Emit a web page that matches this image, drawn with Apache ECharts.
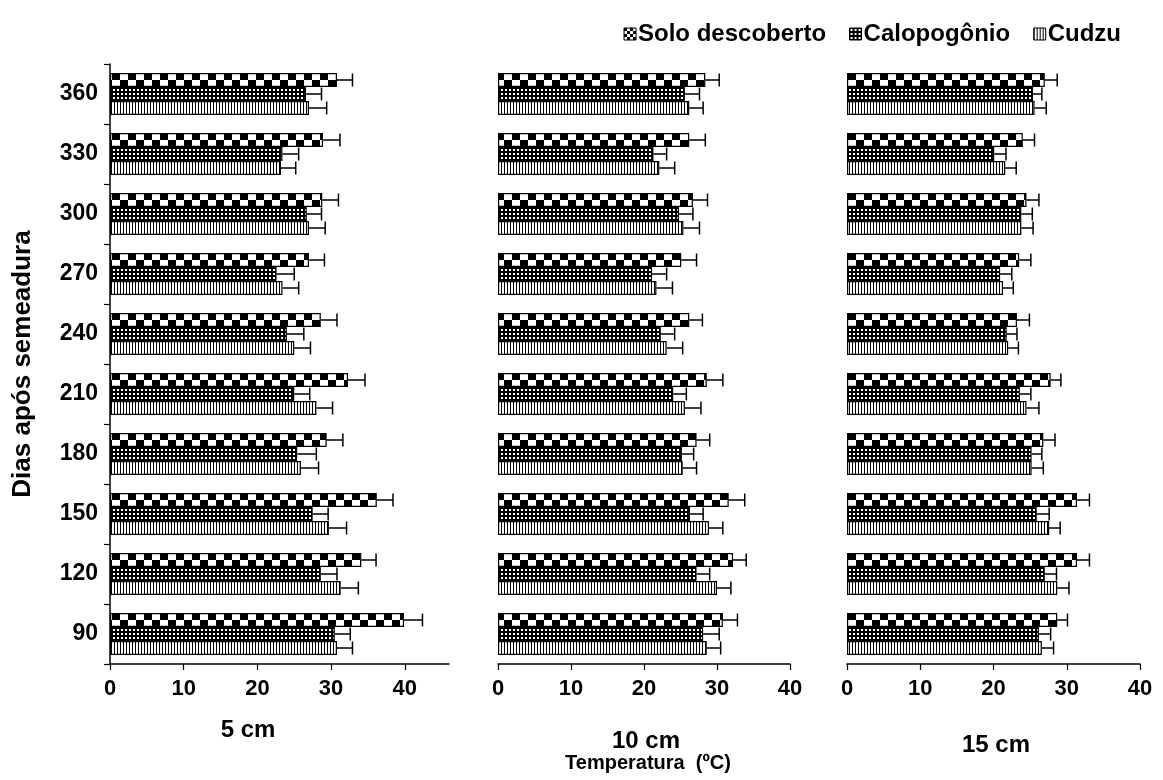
<!DOCTYPE html>
<html><head><meta charset="utf-8">
<script src="https://cdn.jsdelivr.net/npm/echarts@6/dist/echarts.min.js"></script>
<style>html,body{margin:0;padding:0;background:#fff}#c{width:1163px;height:780px}</style>
</head><body><div id="c"></div><script>
// ---- data (categories from bottom to top) ----
const categories = ['90','120','150','180','210','240','270','300','330','360'];
const seriesNames = ['Solo descoberto','Calopogônio','Cudzu'];
const panelNames = ['5 cm','10 cm','15 cm'];
const xTicks = [0,10,20,30,40];

// 5 cm
const solo5   = [39.9,34.1,36.2,29.4,32.3,28.6,27.0,28.8,28.9,30.8];
const solo5E  = [2.5,2.0,2.2,2.2,2.3,2.2,2.1,2.2,2.3,2.1];
const calo5   = [30.5,28.6,27.5,25.4,25.0,24.0,22.6,26.7,23.4,26.6];
const calo5E  = [2.1,2.2,2.1,2.6,2.1,2.3,2.4,2.0,2.2,2.1];
const cudz5   = [30.8,31.3,29.7,25.9,28.0,25.0,23.4,27.0,23.2,27.0];
const cudz5E  = [2.1,2.4,2.4,2.4,2.2,2.2,2.2,2.2,2.0,2.4];
// 10 cm
const solo10  = [30.8,32.2,31.6,27.2,28.6,26.2,25.1,26.7,26.2,28.4];
const solo10E = [2.0,1.8,2.2,1.8,2.2,1.8,2.1,2.0,2.2,1.9];
const calo10  = [28.1,27.2,26.3,25.2,24.0,22.3,21.1,24.8,21.3,25.6];
const calo10E = [2.2,1.8,1.8,1.6,1.8,1.9,2.0,1.9,1.8,2.0];
const cudz10  = [28.6,30.0,28.9,25.3,25.6,23.1,21.7,25.4,22.1,26.2];
const cudz10E = [1.9,1.9,1.9,1.9,2.2,2.2,2.2,2.2,2.1,1.9];
// 15 cm
const solo15  = [28.7,31.4,31.4,26.8,27.8,23.2,23.5,24.5,24.0,27.0];
const solo15E = [1.4,1.7,1.7,1.6,1.4,1.7,1.6,1.7,1.6,1.7];
const calo15  = [26.2,27.0,25.9,25.2,23.6,21.8,20.9,23.8,20.1,25.4];
const calo15E = [1.6,1.6,1.7,1.4,1.5,1.4,1.6,1.5,1.6,1.2];
const cudz15  = [26.6,28.7,27.6,25.2,24.5,22.0,21.3,23.8,21.6,25.6];
const cudz15E = [1.6,1.6,1.5,1.6,1.7,1.4,1.4,1.6,1.5,1.6];

const panels = [
  [[solo5,solo5E],[calo5,calo5E],[cudz5,cudz5E]],
  [[solo10,solo10E],[calo10,calo10E],[cudz10,cudz10E]],
  [[solo15,solo15E],[calo15,calo15E],[cudz15,cudz15E]]
];

// ---- patterns ----
function mk(w,h,draw){const c=document.createElement('canvas');c.width=w;c.height=h;const g=c.getContext('2d');draw(g);return {image:c,repeat:'repeat'};}
const BW = 14; // bar thickness
const checker = mk(16,60,g=>{g.fillStyle='#fff';g.fillRect(0,0,16,60);g.fillStyle='#000';g.fillRect(0,13,8,7);g.fillRect(8,20,8,7);});
const dots = mk(4,4,g=>{g.fillStyle='#000';g.fillRect(0,0,4,4);g.fillStyle='#fff';g.fillRect(1,1,2,2);});
const vlines = mk(3,2,g=>{g.fillStyle='#fff';g.fillRect(0,0,3,2);g.fillStyle='#000';g.fillRect(0,0,1,2);});
const checkerSmall = mk(6,6,g=>{g.fillStyle='#fff';g.fillRect(0,0,6,6);g.fillStyle='#000';g.fillRect(0,0,3,3);g.fillRect(3,3,3,3);});
const fills = [checker,dots,vlines];
const legendFills = [checkerSmall,dots,vlines];

const FONT = "'Liberation Sans', Arial, sans-serif";
const grids = [
  {left:110,top:64,width:339,height:600},
  {left:498,top:64,width:292,height:600},
  {left:847,top:64,width:293,height:600}
];
const xMax = [46,40,40];

const xAxes = grids.map((g,i)=>({
  type:'value', gridIndex:i, min:0, max:xMax[i], interval:10,
  axisLine:{show:true,lineStyle:{color:'#000',width:1.5}},
  axisTick:{show:true,length:6,lineStyle:{color:'#000',width:1.2},customValues: i===0?xTicks:undefined},
  axisLabel:{color:'#000',fontFamily:FONT,fontWeight:'bold',fontSize:22,margin:14,customValues: i===0?xTicks:undefined},
  splitLine:{show:false}
}));
const yAxes = grids.map((g,i)=>({
  type:'category', gridIndex:i, data:categories,
  axisLine:{show:i===0,lineStyle:{color:'#000',width:1.5}},
  axisTick:{show:i===0,length:6,lineStyle:{color:'#000',width:1.2}},
  axisLabel:{show:i===0,color:'#000',fontFamily:FONT,fontWeight:'bold',fontSize:23,margin:12},
  name: i===0?'Dias após semeadura':'', nameLocation:'middle', nameRotate:90, nameGap:74,
  nameTextStyle:{color:'#000',fontFamily:FONT,fontWeight:'bold',fontSize:26}
}));

const series = [];
panels.forEach((p,pi)=>{
  p.forEach(([vals,errs],si)=>{
    series.push({
      type:'bar', name:seriesNames[si], xAxisIndex:pi, yAxisIndex:pi,
      barWidth:BW, barGap:'0%', data:vals,
      itemStyle:{color:fills[si],borderColor:'#000',borderWidth:1.2},
      emphasis:{disabled:true}
    });
  });
  p.forEach(([vals,errs],si)=>{
    series.push({
      type:'custom', name:'err'+pi+si, xAxisIndex:pi, yAxisIndex:pi, z:5,
      data: vals.map((v,ci)=>[v,errs[ci],ci]),
      encode:{x:[0],y:2},
      renderItem:(params,api)=>{
        const v=api.value(0), e=api.value(1), ci=api.value(2);
        const a=api.coord([v,ci]), b=api.coord([v+e,ci]);
        const y=a[1]+(si-1)*BW;
        return {type:'group',children:[
          {type:'line',shape:{x1:a[0],y1:y,x2:b[0],y2:y},style:{stroke:'#000',lineWidth:1.5}},
          {type:'line',shape:{x1:b[0],y1:y-6.5,x2:b[0],y2:y+6.5},style:{stroke:'#000',lineWidth:1.5}}
        ]};
      }
    });
  });
});

const chart = echarts.init(document.getElementById('c'),null,{renderer:'canvas'});
chart.setOption({
  animation:false,
  backgroundColor:'#fff',
  grid:grids,
  xAxis:xAxes,
  yAxis:yAxes,
  legend:{
    right:37, top:17, itemWidth:12, itemHeight:12, itemGap:23, icon:'rect',
    textStyle:{color:'#000',fontFamily:FONT,fontWeight:'bold',fontSize:24,padding:[0,0,0,-3]},
    data: seriesNames.map((n,i)=>({name:n,itemStyle:{color:legendFills[i],borderColor:'#000',borderWidth:1}}))
  },
  graphic:[
    {type:'text',x:248,y:730,style:{text:panelNames[0],fill:'#000',font:`bold 24px ${FONT}`,align:'center',verticalAlign:'middle'}},
    {type:'text',x:646,y:741,style:{text:panelNames[1],fill:'#000',font:`bold 24px ${FONT}`,align:'center',verticalAlign:'middle'}},
    {type:'text',x:648,y:763,style:{text:'Temperatura  (ºC)',fill:'#000',font:`bold 20px ${FONT}`,align:'center',verticalAlign:'middle'}},
    {type:'text',x:996,y:745,style:{text:panelNames[2],fill:'#000',font:`bold 24px ${FONT}`,align:'center',verticalAlign:'middle'}}
  ],
  series:series
});
</script></body></html>
